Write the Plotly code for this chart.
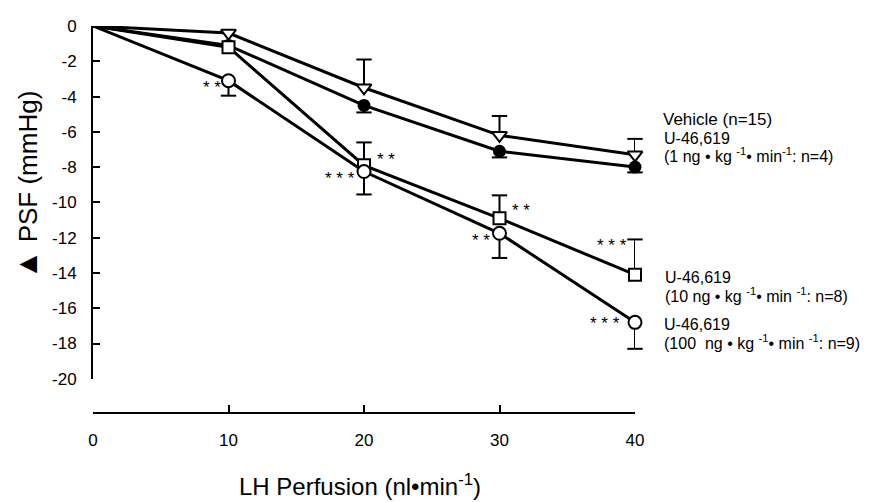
import plotly.graph_objects as go

# ---- data ----
perfusion = [0, 10, 20, 30, 40]
vehicle = [0, -0.4, -3.5, -6.2, -7.3]
vehicle_se = [0, 0, 1.6, 1.1, 0.9]
u1ng = [0, -1.1, -4.5, -7.1, -8.0]
u1ng_se = [0, 0, 0.4, 0.35, 0.3]
u10ng = [0, -1.2, -7.9, -10.9, -14.1]
u10ng_se = [0, 0, 1.3, 1.3, 2.0]
u100ng = [0, -3.1, -8.25, -11.75, -16.8]
u100ng_se = [0, 0.85, 1.3, 1.4, 1.5]

y_ticks = [0, -2, -4, -6, -8, -10, -12, -14, -16, -18, -20]
x_ticks = [0, 10, 20, 30, 40]

# significance marks: (text, x, y)
stars = [
    ("* *", 8.8, -3.55),
    ("* *", 21.6, -7.6),
    ("* * *", 18.2, -8.7),
    ("* *", 31.6, -10.5),
    ("* *", 28.6, -12.2),
    ("* * *", 38.3, -12.5),
    ("* * *", 37.8, -16.9),
]

FONT = "Liberation Sans, Arial, sans-serif"
BLACK = "black"

fig = go.Figure()

series = [
    # values, se, direction (+1 up / -1 down), symbol, size, fill
    (u1ng, u1ng_se, -1, "circle", 11, BLACK),
    (vehicle, vehicle_se, 1, "triangle-down", 13, "white"),
    (u10ng, u10ng_se, 1, "square", 12, "white"),
    (u100ng, u100ng_se, -1, "circle", 13, "white"),
]

# error-bar caps (drawn first, under everything)
for vals, se, d, sym, size, fill in series:
    tips = [v + d * s if s > 0 else None for v, s in zip(vals, se)]
    fig.add_trace(go.Scatter(
        x=perfusion, y=tips, mode="markers",
        marker=dict(symbol="line-ew", size=11, line=dict(color=BLACK, width=2)),
        cliponaxis=False, showlegend=False, hoverinfo="skip",
    ))

for vals, se, d, sym, size, fill in series:
    zeros = [0] * len(se)
    fig.add_trace(go.Scatter(
        x=perfusion, y=vals, mode="lines+markers",
        line=dict(color=BLACK, width=3),
        marker=dict(symbol=sym, size=[0] + [size] * (len(vals) - 1),
                    opacity=[0] + [1] * (len(vals) - 1), color=fill,
                    line=dict(color=BLACK, width=2)),
        error_y=dict(type="data", symmetric=False,
                     array=se if d > 0 else zeros,
                     arrayminus=zeros if d > 0 else se,
                     color=BLACK, thickness=2, width=0),
        cliponaxis=False, showlegend=False,
    ))

annotations = []
for txt, sx, sy in stars:
    annotations.append(dict(text=txt, x=sx, y=sy, xref="x", yref="y",
                            showarrow=False, yshift=1,
                            font=dict(family=FONT, size=17, color=BLACK)))

def px2y(py):
    return -(py - 17) / 18.05

def px2xp(px):
    return (px - 93) / 542

labels = [
    ("Vehicle (n=15)", 661, 113, 17),
    ("U-46,619", 662, 132, 16),
    ("(1 ng • kg <sup>-1</sup>• min<sup>-1</sup>: n=4)", 662, 149, 16),
    ("U-46,619", 663, 274, 16),
    ("(10 ng • kg <sup>-1</sup>• min <sup>-1</sup>: n=8)", 663, 292, 16),
    ("U-46,619", 662, 322, 16),
    ("(100  ng • kg <sup>-1</sup>• min <sup>-1</sup>: n=9)", 662, 340, 16),
]
for txt, px, py, fs in labels:
    annotations.append(dict(text=txt, x=px2xp(px), y=px2y(py), xref="paper", yref="y",
                            xanchor="left", yanchor="middle", showarrow=False,
                            font=dict(family=FONT, size=fs, color=BLACK)))

# axis titles (delta drawn as a filled triangle, as in the original)
annotations.append(dict(text="<span style=\"font-size:30px\">▲</span> PSF (mmHg)",
                        x=px2xp(26), y=px2y(180), xref="paper", yref="y",
                        textangle=-90, showarrow=False, xanchor="center", yanchor="middle",
                        font=dict(family=FONT, size=26, color=BLACK)))
annotations.append(dict(text="LH Perfusion (nl•min<sup>-1</sup>)", x=px2xp(360), y=(413 - 487) / 396,
                        xref="paper", yref="paper", showarrow=False,
                        xanchor="center", yanchor="middle",
                        font=dict(family=FONT, size=24, color=BLACK)))

# page body has an 8px margin, so the figure is 8px smaller and margins shifted
fig.update_layout(
    width=868, height=494,
    margin=dict(l=85, r=241, t=9, b=89),
    paper_bgcolor="white", plot_bgcolor="white",
    font=dict(family=FONT, size=17, color=BLACK),
    annotations=annotations,
    xaxis=dict(range=[0, 40], tickvals=x_ticks, ticktext=[str(v) for v in x_ticks],
               showgrid=False, zeroline=False, showline=True, linecolor=BLACK, linewidth=2,
               ticks="inside", ticklen=7, tickwidth=2, tickcolor=BLACK,
               anchor="free", position=0, ticklabelstandoff=12,
               ticklabeloverflow="allow",
               tickfont=dict(family=FONT, size=17, color=BLACK)),
    yaxis=dict(range=[-20, 0], domain=[(413 - 378) / 396, 1], tickvals=y_ticks,
               ticktext=[str(v) for v in y_ticks],
               showgrid=False, zeroline=False, showline=True, linecolor=BLACK, linewidth=2,
               ticks="inside", ticklen=7, tickwidth=2, tickcolor=BLACK,
               ticklabelstandoff=11, ticklabeloverflow="allow",
               tickfont=dict(family=FONT, size=17, color=BLACK)),
)

fig.write_html("out.html")
